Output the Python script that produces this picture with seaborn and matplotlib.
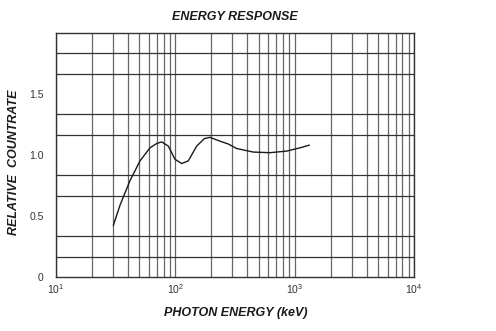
import matplotlib
matplotlib.use("Agg")
import matplotlib.pyplot as plt
import seaborn as sns
import pandas as pd
from matplotlib.ticker import FixedLocator, LogLocator, NullFormatter

# ---- data ----
energy_kev = [30.2, 34.4, 41.7, 50.6, 61.3, 70.0, 76.9, 87.3, 99.3, 113, 128.5,
              151, 175, 195, 237, 278, 327, 450, 621, 857, 1109, 1327]
relative_countrate = [0.422, 0.589, 0.790, 0.952, 1.059, 1.095, 1.107, 1.073, 0.965,
                      0.930, 0.952, 1.073, 1.134, 1.145, 1.113, 1.090, 1.053, 1.024,
                      1.019, 1.032, 1.059, 1.081]
y_tick_values = [0, 0.5, 1.0, 1.5]
y_tick_labels = ["0", "0.5", "1.0", "1.5"]
x_tick_values = [10, 100, 1000, 10000]
x_tick_labels = [r"$10^1$", r"$10^2$", r"$10^3$", r"$10^4$"]
y_grid_values = [k / 6 for k in range(1, 12)]

sns.set_theme(style="white")
plt.rcParams["font.family"] = ["Liberation Sans", "DejaVu Sans"]
plt.rcParams["mathtext.fontset"] = "custom"
plt.rcParams["mathtext.rm"] = "Liberation Sans"
plt.rcParams["mathtext.it"] = "Liberation Sans:italic"

df = pd.DataFrame({"energy": energy_kev, "rate": relative_countrate})

W, H = 496, 331
fig = plt.figure(figsize=(W / 100, H / 100), dpi=100)
ax = fig.add_axes([56 / W, 1 - 277 / H, 358 / W, 244 / H])

ax.set_xscale("log")
ax.set_xlim(10, 10000)
ax.set_ylim(0, 2.0)

# grid
ax.xaxis.set_major_locator(FixedLocator(x_tick_values))
ax.xaxis.set_minor_locator(LogLocator(base=10, subs=range(2, 10)))
ax.xaxis.set_minor_formatter(NullFormatter())
ax.set_xticks(x_tick_values)
ax.set_xticklabels(x_tick_labels)
ax.set_yticks(y_tick_values)
ax.set_yticklabels(y_tick_labels)
ax.set_yticks(y_grid_values, minor=True)

ax.grid(False)
ax.xaxis.grid(True, which="both", color="#666666", linewidth=0.9)
ax.yaxis.grid(True, which="minor", color="#333333", linewidth=0.9)
ax.set_axisbelow(True)

ax.tick_params(axis="both", which="both", length=0)
ax.tick_params(axis="x", which="major", pad=4, labelsize=7.5, labelcolor="#333333")
ax.tick_params(axis="y", which="major", pad=9, labelsize=7.5, labelcolor="#333333")

for s in ax.spines.values():
    s.set_color("#333333")
    s.set_linewidth(1.0)

sns.lineplot(data=df, x="energy", y="rate", ax=ax, color="#1a1a1a", linewidth=1.0)
ax.set_xlabel("")
ax.set_ylabel("")

fig.text(235 / W, 1 - 17 / H, "ENERGY RESPONSE", ha="center", va="center",
         fontsize=9, fontweight="bold", fontstyle="italic", color="#1a1a1a")
fig.text(236 / W, 1 - 313 / H, "PHOTON ENERGY (keV)", ha="center", va="center",
         fontsize=9, fontweight="bold", fontstyle="italic", color="#1a1a1a")
fig.text(14 / W, 1 - 162 / H, "RELATIVE  COUNTRATE", ha="center", va="center",
         rotation=90, fontsize=9, fontweight="bold", fontstyle="italic", color="#1a1a1a")

fig.savefig("out.png", dpi=100, facecolor="white")
